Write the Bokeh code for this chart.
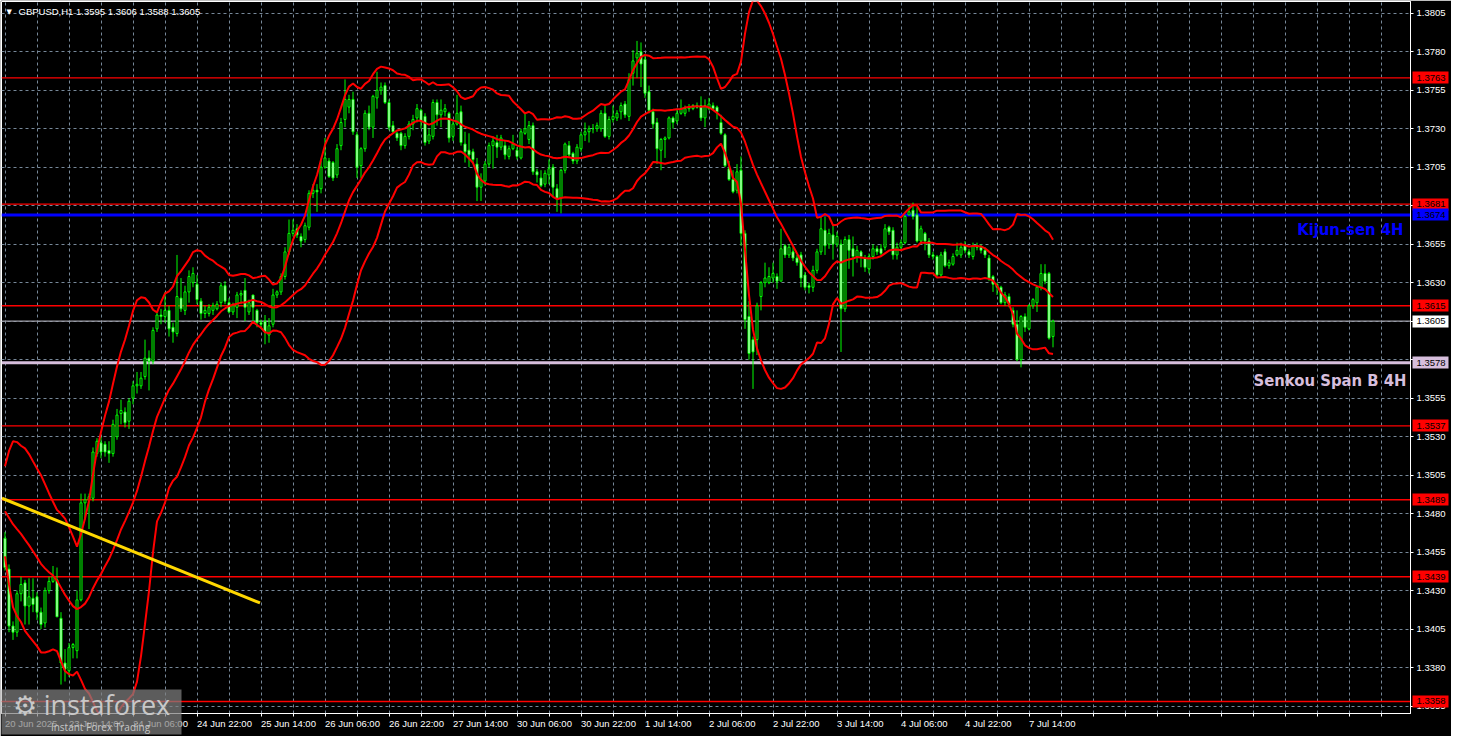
import numpy as np
from bokeh.plotting import figure
from bokeh.models import (Range1d, FixedTicker, NumeralTickFormatter, Label, Span,
                          ColumnDataSource, LinearAxis)
from bokeh.embed import file_html
from bokeh.resources import INLINE

symbol = "GBPUSD,H1"

# ---- hourly candles (bar 0 = 20 Jun 22:00, last bar = 7 Jul 20:00) ----
open_ = [
    1.3464, 1.3444, 1.3407, 1.3403, 1.3428, 1.3435, 1.3420, 1.3425, 1.3426, 1.3416,
    1.3409, 1.3430, 1.3436, 1.3437, 1.3412, 1.3383, 1.3378, 1.3393, 1.3391, 1.3424,
    1.3487, 1.3489, 1.3490, 1.3519, 1.3526, 1.3525, 1.3521, 1.3519, 1.3530, 1.3545,
    1.3546, 1.3540, 1.3555, 1.3563, 1.3563, 1.3569, 1.3581, 1.3579, 1.3600, 1.3609,
    1.3608, 1.3612, 1.3601, 1.3597, 1.3620, 1.3612, 1.3624, 1.3630, 1.3629, 1.3618,
    1.3610, 1.3610, 1.3612, 1.3613, 1.3617, 1.3628, 1.3617, 1.3611, 1.3614, 1.3622,
    1.3625, 1.3611, 1.3622, 1.3612, 1.3604, 1.3605, 1.3596, 1.3603, 1.3622, 1.3624,
    1.3634, 1.3650, 1.3662, 1.3665, 1.3660, 1.3658, 1.3666, 1.3688, 1.3690, 1.3691,
    1.3705, 1.3709, 1.3708, 1.3700, 1.3719, 1.3736, 1.3744, 1.3749, 1.3726, 1.3706,
    1.3717, 1.3740, 1.3731, 1.3750, 1.3755, 1.3758, 1.3747, 1.3732, 1.3727, 1.3727,
    1.3719, 1.3725, 1.3733, 1.3737, 1.3742, 1.3738, 1.3722, 1.3725, 1.3747, 1.3739,
    1.3741, 1.3740, 1.3725, 1.3733, 1.3741, 1.3720, 1.3716, 1.3715, 1.3707, 1.3692,
    1.3696, 1.3707, 1.3719, 1.3721, 1.3718, 1.3719, 1.3712, 1.3717, 1.3716, 1.3711,
    1.3727, 1.3723, 1.3732, 1.3702, 1.3698, 1.3694, 1.3700, 1.3705, 1.3691, 1.3685,
    1.3703, 1.3719, 1.3714, 1.3709, 1.3717, 1.3726, 1.3728, 1.3730, 1.3730, 1.3730,
    1.3740, 1.3725, 1.3736, 1.3737, 1.3741, 1.3746, 1.3738, 1.3766, 1.3776, 1.3780,
    1.3775, 1.3754, 1.3741, 1.3734, 1.3716, 1.3723, 1.3724, 1.3737, 1.3735, 1.3740,
    1.3740, 1.3743, 1.3743, 1.3745, 1.3745, 1.3737, 1.3743, 1.3745, 1.3744, 1.3734,
    1.3726, 1.3704, 1.3697, 1.3690, 1.3703, 1.3662, 1.3608, 1.3593, 1.3593, 1.3621,
    1.3630, 1.3630, 1.3633, 1.3634, 1.3631, 1.3654, 1.3648, 1.3650, 1.3646, 1.3648,
    1.3635, 1.3628, 1.3627, 1.3638, 1.3650, 1.3664, 1.3655, 1.3661, 1.3655, 1.3655,
    1.3613, 1.3658, 1.3652, 1.3647, 1.3650, 1.3646, 1.3639, 1.3647, 1.3652, 1.3652,
    1.3653, 1.3666, 1.3664, 1.3648, 1.3653, 1.3656, 1.3674, 1.3677, 1.3674, 1.3657,
    1.3662, 1.3657, 1.3648, 1.3647, 1.3635, 1.3650, 1.3641, 1.3642, 1.3648, 1.3648,
    1.3654, 1.3650, 1.3647, 1.3654, 1.3653, 1.3651, 1.3646, 1.3634, 1.3629, 1.3627,
    1.3617, 1.3621, 1.3612, 1.3603, 1.3580, 1.3608, 1.3600, 1.3615, 1.3617, 1.3627,
    1.3636, 1.3636, 1.3595]

high = [
    1.3468, 1.3447, 1.3410, 1.3430, 1.3439, 1.3437, 1.3438, 1.3438, 1.3429, 1.3419,
    1.3432, 1.3439, 1.3446, 1.3445, 1.3416, 1.3392, 1.3396, 1.3396, 1.3430, 1.3493,
    1.3493, 1.3493, 1.3523, 1.3529, 1.3530, 1.3527, 1.3527, 1.3541, 1.3548, 1.3554,
    1.3549, 1.3555, 1.3566, 1.3572, 1.3572, 1.3593, 1.3586, 1.3601, 1.3611, 1.3613,
    1.3624, 1.3615, 1.3604, 1.3648, 1.3633, 1.3628, 1.3638, 1.3640, 1.3635, 1.3620,
    1.3615, 1.3616, 1.3617, 1.3618, 1.3630, 1.3631, 1.3620, 1.3617, 1.3624, 1.3625,
    1.3633, 1.3619, 1.3622, 1.3613, 1.3606, 1.3609, 1.3607, 1.3626, 1.3625, 1.3636,
    1.3653, 1.3671, 1.3671, 1.3668, 1.3662, 1.3669, 1.3690, 1.3694, 1.3694, 1.3709,
    1.3724, 1.3711, 1.3709, 1.3720, 1.3737, 1.3762, 1.3752, 1.3754, 1.3728, 1.3718,
    1.3742, 1.3745, 1.3752, 1.3767, 1.3760, 1.3760, 1.3749, 1.3735, 1.3728, 1.3728,
    1.3727, 1.3735, 1.3739, 1.3746, 1.3743, 1.3740, 1.3730, 1.3749, 1.3749, 1.3749,
    1.3746, 1.3741, 1.3735, 1.3752, 1.3745, 1.3728, 1.3727, 1.3717, 1.3711, 1.3701,
    1.3709, 1.3721, 1.3725, 1.3726, 1.3726, 1.3722, 1.3719, 1.3726, 1.3718, 1.3730,
    1.3740, 1.3735, 1.3734, 1.3704, 1.3703, 1.3703, 1.3710, 1.3707, 1.3694, 1.3704,
    1.3721, 1.3722, 1.3715, 1.3720, 1.3728, 1.3734, 1.3732, 1.3733, 1.3734, 1.3742,
    1.3745, 1.3738, 1.3745, 1.3742, 1.3747, 1.3748, 1.3766, 1.3781, 1.3787, 1.3786,
    1.3778, 1.3758, 1.3743, 1.3737, 1.3724, 1.3725, 1.3738, 1.3738, 1.3743, 1.3749,
    1.3745, 1.3746, 1.3746, 1.3747, 1.3751, 1.3749, 1.3750, 1.3747, 1.3745, 1.3739,
    1.3727, 1.3709, 1.3703, 1.3707, 1.3712, 1.3664, 1.3618, 1.3595, 1.3617, 1.3631,
    1.3643, 1.3640, 1.3643, 1.3636, 1.3665, 1.3655, 1.3655, 1.3653, 1.3648, 1.3650,
    1.3637, 1.3630, 1.3641, 1.3652, 1.3673, 1.3673, 1.3665, 1.3668, 1.3663, 1.3658,
    1.3660, 1.3661, 1.3660, 1.3654, 1.3651, 1.3648, 1.3649, 1.3655, 1.3654, 1.3655,
    1.3668, 1.3667, 1.3666, 1.3656, 1.3658, 1.3674, 1.3680, 1.3682, 1.3679, 1.3667,
    1.3663, 1.3659, 1.3650, 1.3648, 1.3650, 1.3652, 1.3645, 1.3649, 1.3656, 1.3656,
    1.3657, 1.3652, 1.3656, 1.3656, 1.3655, 1.3653, 1.3648, 1.3635, 1.3630, 1.3628,
    1.3624, 1.3623, 1.3614, 1.3612, 1.3609, 1.3610, 1.3616, 1.3620, 1.3628, 1.3642,
    1.3642, 1.3637, 1.3606]

low = [
    1.3443, 1.3403, 1.3398, 1.3400, 1.3423, 1.3408, 1.3408, 1.3416, 1.3411, 1.3405,
    1.3406, 1.3428, 1.3435, 1.3413, 1.3369, 1.3371, 1.3374, 1.3386, 1.3386, 1.3423,
    1.3476, 1.3470, 1.3488, 1.3517, 1.3516, 1.3517, 1.3513, 1.3517, 1.3528, 1.3538,
    1.3536, 1.3535, 1.3551, 1.3558, 1.3561, 1.3567, 1.3560, 1.3577, 1.3598, 1.3603,
    1.3604, 1.3595, 1.3591, 1.3595, 1.3611, 1.3609, 1.3617, 1.3627, 1.3616, 1.3606,
    1.3607, 1.3608, 1.3609, 1.3612, 1.3614, 1.3616, 1.3610, 1.3609, 1.3607, 1.3616,
    1.3605, 1.3609, 1.3604, 1.3601, 1.3600, 1.3590, 1.3591, 1.3601, 1.3620, 1.3622,
    1.3632, 1.3648, 1.3660, 1.3659, 1.3653, 1.3656, 1.3664, 1.3685, 1.3676, 1.3688,
    1.3704, 1.3698, 1.3696, 1.3698, 1.3716, 1.3731, 1.3740, 1.3726, 1.3698, 1.3698,
    1.3715, 1.3729, 1.3724, 1.3743, 1.3752, 1.3746, 1.3729, 1.3727, 1.3722, 1.3716,
    1.3717, 1.3723, 1.3729, 1.3734, 1.3730, 1.3719, 1.3720, 1.3723, 1.3732, 1.3731,
    1.3738, 1.3721, 1.3722, 1.3732, 1.3719, 1.3708, 1.3705, 1.3707, 1.3683, 1.3683,
    1.3693, 1.3705, 1.3704, 1.3711, 1.3716, 1.3710, 1.3710, 1.3716, 1.3710, 1.3710,
    1.3726, 1.3720, 1.3700, 1.3695, 1.3692, 1.3692, 1.3694, 1.3686, 1.3676, 1.3675,
    1.3701, 1.3711, 1.3707, 1.3707, 1.3715, 1.3722, 1.3721, 1.3727, 1.3728, 1.3728,
    1.3724, 1.3723, 1.3734, 1.3735, 1.3736, 1.3737, 1.3735, 1.3758, 1.3763, 1.3757,
    1.3750, 1.3740, 1.3730, 1.3707, 1.3703, 1.3711, 1.3723, 1.3730, 1.3733, 1.3739,
    1.3738, 1.3741, 1.3742, 1.3743, 1.3735, 1.3731, 1.3742, 1.3742, 1.3736, 1.3726,
    1.3705, 1.3696, 1.3688, 1.3688, 1.3654, 1.3600, 1.3580, 1.3561, 1.3583, 1.3612,
    1.3627, 1.3629, 1.3630, 1.3626, 1.3631, 1.3646, 1.3646, 1.3644, 1.3641, 1.3627,
    1.3625, 1.3623, 1.3624, 1.3636, 1.3648, 1.3648, 1.3652, 1.3645, 1.3653, 1.3585,
    1.3611, 1.3639, 1.3634, 1.3643, 1.3640, 1.3637, 1.3636, 1.3645, 1.3648, 1.3647,
    1.3651, 1.3661, 1.3645, 1.3645, 1.3651, 1.3655, 1.3674, 1.3671, 1.3656, 1.3655,
    1.3651, 1.3646, 1.3645, 1.3634, 1.3633, 1.3640, 1.3639, 1.3641, 1.3647, 1.3646,
    1.3649, 1.3646, 1.3645, 1.3651, 1.3649, 1.3646, 1.3631, 1.3624, 1.3622, 1.3616,
    1.3615, 1.3614, 1.3601, 1.3579, 1.3575, 1.3598, 1.3599, 1.3613, 1.3611, 1.3625,
    1.3629, 1.3593, 1.3588]

close = [
    1.3445, 1.3407, 1.3403, 1.3428, 1.3434, 1.3420, 1.3426, 1.3421, 1.3416, 1.3408,
    1.3430, 1.3436, 1.3439, 1.3413, 1.3383, 1.3379, 1.3393, 1.3395, 1.3424, 1.3487,
    1.3489, 1.3491, 1.3520, 1.3527, 1.3520, 1.3520, 1.3519, 1.3538, 1.3544, 1.3547,
    1.3539, 1.3553, 1.3563, 1.3564, 1.3568, 1.3581, 1.3579, 1.3599, 1.3609, 1.3608,
    1.3612, 1.3600, 1.3598, 1.3621, 1.3613, 1.3624, 1.3634, 1.3636, 1.3619, 1.3610,
    1.3612, 1.3614, 1.3615, 1.3616, 1.3628, 1.3618, 1.3611, 1.3615, 1.3622, 1.3623,
    1.3614, 1.3617, 1.3614, 1.3604, 1.3603, 1.3598, 1.3602, 1.3622, 1.3624, 1.3634,
    1.3650, 1.3662, 1.3664, 1.3661, 1.3657, 1.3667, 1.3688, 1.3690, 1.3689, 1.3705,
    1.3711, 1.3699, 1.3698, 1.3717, 1.3734, 1.3749, 1.3749, 1.3728, 1.3705, 1.3717,
    1.3740, 1.3731, 1.3751, 1.3755, 1.3757, 1.3747, 1.3731, 1.3728, 1.3724, 1.3719,
    1.3725, 1.3733, 1.3736, 1.3743, 1.3735, 1.3721, 1.3726, 1.3747, 1.3739, 1.3742,
    1.3743, 1.3724, 1.3733, 1.3740, 1.3721, 1.3715, 1.3713, 1.3710, 1.3692, 1.3697,
    1.3707, 1.3719, 1.3722, 1.3718, 1.3724, 1.3713, 1.3717, 1.3720, 1.3712, 1.3728,
    1.3730, 1.3732, 1.3702, 1.3700, 1.3693, 1.3701, 1.3704, 1.3692, 1.3685, 1.3703,
    1.3720, 1.3713, 1.3709, 1.3718, 1.3726, 1.3728, 1.3730, 1.3730, 1.3732, 1.3740,
    1.3725, 1.3736, 1.3738, 1.3740, 1.3745, 1.3739, 1.3762, 1.3774, 1.3779, 1.3772,
    1.3753, 1.3742, 1.3733, 1.3717, 1.3723, 1.3724, 1.3737, 1.3734, 1.3740, 1.3743,
    1.3743, 1.3744, 1.3745, 1.3744, 1.3737, 1.3745, 1.3746, 1.3743, 1.3741, 1.3727,
    1.3706, 1.3697, 1.3689, 1.3702, 1.3662, 1.3606, 1.3584, 1.3585, 1.3615, 1.3630,
    1.3633, 1.3634, 1.3636, 1.3631, 1.3652, 1.3648, 1.3653, 1.3646, 1.3643, 1.3633,
    1.3627, 1.3627, 1.3638, 1.3650, 1.3665, 1.3654, 1.3662, 1.3655, 1.3660, 1.3613,
    1.3658, 1.3651, 1.3647, 1.3651, 1.3647, 1.3640, 1.3647, 1.3652, 1.3650, 1.3649,
    1.3665, 1.3663, 1.3648, 1.3653, 1.3656, 1.3673, 1.3676, 1.3673, 1.3657, 1.3665,
    1.3657, 1.3648, 1.3647, 1.3635, 1.3648, 1.3641, 1.3643, 1.3647, 1.3651, 1.3653,
    1.3651, 1.3648, 1.3654, 1.3653, 1.3651, 1.3648, 1.3633, 1.3629, 1.3627, 1.3617,
    1.3622, 1.3616, 1.3603, 1.3580, 1.3608, 1.3601, 1.3615, 1.3619, 1.3627, 1.3636,
    1.3631, 1.3594, 1.3605]

# closes of the 19 hours before the first visible bar (needed by the 20-bar bands)
pre_close = [1.3490, 1.3487, 1.3492, 1.3496, 1.3494, 1.3498, 1.3500, 1.3496, 1.3492, 1.3489,
             1.3486, 1.3482, 1.3478, 1.3475, 1.3472, 1.3469, 1.3466, 1.3463, 1.3460]

x_tick_bars = [0, 16, 32, 48, 64, 80, 96, 112, 128, 144, 160, 176, 192, 208, 224, 240, 256]
x_tick_labels = ["20 Jun 2025", "23 Jun 14:00", "24 Jun 06:00", "24 Jun 22:00", "25 Jun 14:00",
                 "26 Jun 06:00", "26 Jun 22:00", "27 Jun 14:00", "30 Jun 06:00", "30 Jun 22:00",
                 "1 Jul 14:00", "2 Jul 06:00", "2 Jul 22:00", "3 Jul 14:00", "4 Jul 06:00",
                 "4 Jul 22:00", "7 Jul 14:00"]

price_grid = [1.3355, 1.3380, 1.3405, 1.3430, 1.3455, 1.3480, 1.3505, 1.3530, 1.3555, 1.3580,
              1.3605, 1.3630, 1.3655, 1.3680, 1.3705, 1.3730, 1.3755, 1.3780, 1.3805]

red_levels = [1.3763, 1.3681, 1.3615, 1.3537, 1.3489, 1.3439, 1.3358]
kijun_4h = 1.3674
senkou_b_4h = 1.3578

trend_x = [-0.75, 63.75]
trend_y = [1.3490, 1.3422]

watermark_name = "\u2699 instaforex"
watermark_sub = "Instant Forex Trading"

# ---------------------------------------------------------------
n = min(len(open_), len(high), len(low), len(close))
o = np.array(open_[:n]); c = np.array(close[:n])
h = np.maximum(np.array(high[:n]), np.maximum(o, c))
l = np.minimum(np.array(low[:n]), np.minimum(o, c))
idx = np.arange(n)
last = close[n - 1]

full = np.array(pre_close + list(c))
win = np.array([full[i:i + 20] for i in range(n)])
bb_mid = win.mean(axis=1)
bb_sd = win.std(axis=1)
bb_up = bb_mid + 2 * bb_sd
bb_lo = bb_mid - 2 * bb_sd

FW, FH = 1409, 712
PX_PER_BAR = 4.0
X0 = -0.875
X1 = X0 + FW / PX_PER_BAR
Y0, Y1 = 1.33502, 1.38126
FONT = "Liberation Sans"
FS = "9.5px"
THISTLE = "#D6BEDC"

p = figure(frame_width=FW, frame_height=FH,
           x_range=Range1d(X0, X1), y_range=Range1d(Y0, Y1),
           output_backend="svg", toolbar_location=None,
           y_axis_location="right",
           background_fill_color="black", border_fill_color="black",
           min_border_left=1, min_border_top=1, min_border_right=41, min_border_bottom=21,
           outline_line_color="white", outline_line_width=1)

tick_bars = list(range(0, int(X1) + 1, 8))

# grid
p.xgrid.ticker = FixedTicker(ticks=tick_bars)
p.ygrid.ticker = FixedTicker(ticks=price_grid)
for g in (p.xgrid, p.ygrid):
    g.grid_line_color = "#778899"
    g.grid_line_dash = "3 3"
    g.grid_line_width = 1

# right price scale
ya = p.yaxis[0]
ya.ticker = FixedTicker(ticks=price_grid)
ya.formatter = NumeralTickFormatter(format="0.0000")
ya.major_label_text_color = "white"
ya.major_label_text_font = FONT
ya.major_label_text_font_size = FS
ya.axis_line_color = "white"
ya.major_tick_line_color = "white"
ya.major_tick_in = 0
ya.major_tick_out = 3
ya.minor_tick_line_color = None
ya.major_label_standoff = 3


# coloured tag boxes: zero-width scales placed just outside the price scale whose thick
# ticks point back inwards over it
def tag_box_axis(levels, bg):
    p.add_layout(LinearAxis(ticker=FixedTicker(ticks=levels),
                            axis_line_color=None, minor_tick_line_color=None,
                            major_tick_in=36, major_tick_out=0, major_tick_line_width=12,
                            major_tick_line_color=bg, major_label_text_color=None), "right")


tag_box_axis(red_levels, "#FF0000")
tag_box_axis([kijun_4h], "#0000FF")
tag_box_axis([last], "#FFFFFF")
tag_box_axis([senkou_b_4h], THISTLE)

# tag texts
tag_levels = red_levels + [kijun_4h, last, senkou_b_4h]
p.add_layout(LinearAxis(ticker=FixedTicker(ticks=tag_levels),
                        formatter=NumeralTickFormatter(format="0.0000"),
                        axis_line_color=None, minor_tick_line_color=None,
                        major_tick_line_color=None, major_tick_in=0, major_tick_out=0,
                        major_label_standoff=-32, major_label_text_color="black",
                        major_label_text_font=FONT, major_label_text_font_size=FS), "right")

# bottom: tick marks every 8 bars (closest to the frame)
xa = p.xaxis[0]
xa.ticker = FixedTicker(ticks=tick_bars)
xa.major_label_text_color = None
xa.major_label_standoff = 0
xa.axis_line_color = "white"
xa.major_tick_line_color = "white"
xa.major_tick_in = 0
xa.major_tick_out = 3
xa.minor_tick_line_color = None


def text_px(s, size):
    w = {" ": 0.278, ":": 0.278, "J": 0.5, "u": 0.556, "n": 0.556, "l": 0.222}
    return sum(w.get(ch, 0.556) for ch in s) * size


# time labels starting at their tick (MT4 style)
label_pos = [round(b + text_px(t, 9.5) / 2 / PX_PER_BAR, 3) for b, t in zip(x_tick_bars, x_tick_labels)]
p.add_layout(LinearAxis(ticker=FixedTicker(ticks=label_pos),
                        major_label_overrides={pos: t for pos, t in zip(label_pos, x_tick_labels)},
                        major_label_text_color="white", major_label_text_font=FONT,
                        major_label_text_font_size=FS, major_label_standoff=1,
                        axis_line_color=None, major_tick_line_color=None,
                        major_tick_in=0, major_tick_out=0, minor_tick_line_color=None), "below")


def sx_to_bar(px):
    return round(X0 + px / PX_PER_BAR, 3)


# watermark in the bottom-left corner (overlaps chart and time scale)
wm_box = sx_to_bar(90)
p.add_layout(LinearAxis(ticker=FixedTicker(ticks=[wm_box]),
                        axis_line_color=None, minor_tick_line_color=None,
                        major_tick_in=42, major_tick_out=3,
                        major_tick_line_width=180, major_tick_line_color="#808080",
                        major_tick_line_alpha=0.72, major_label_text_color=None), "below")
wm_sub = sx_to_bar(99)
p.add_layout(LinearAxis(ticker=FixedTicker(ticks=[wm_sub]),
                        major_label_overrides={wm_sub: watermark_sub},
                        axis_line_color=None, minor_tick_line_color=None,
                        major_tick_line_color=None, major_tick_in=0, major_tick_out=0,
                        major_label_standoff=-15, major_label_text_color="#C8C8C8",
                        major_label_text_font="Open Sans", major_label_text_font_size="10px"), "below")
p.add_layout(LinearAxis(ticker=FixedTicker(ticks=[wm_box]),
                        major_label_overrides={wm_box: watermark_name},
                        axis_line_color=None, minor_tick_line_color=None,
                        major_tick_line_color=None, major_tick_in=0, major_tick_out=0,
                        major_label_standoff=-51, major_label_text_color="#C8C8C8",
                        major_label_text_font="Open Sans", major_label_text_font_size="27px"), "below")

# horizontal levels
for lv in red_levels:
    p.add_layout(Span(location=lv, dimension="width", line_color="#FF0000", line_width=1.4, level="underlay"))
p.add_layout(Span(location=last, dimension="width", line_color="#A0A0AA", line_width=1.2, level="underlay"))
p.add_layout(Span(location=kijun_4h, dimension="width", line_color="#0000FF", line_width=3, level="underlay"))
p.add_layout(Span(location=senkou_b_4h, dimension="width", line_color=THISTLE, line_width=3, level="underlay"))

# candles
src = ColumnDataSource(dict(x=idx, h=h, l=l, top=np.maximum(o, c), bottom=np.minimum(o, c),
                            fill=np.where(c >= o, "black", "white")))
p.segment("x", "h", "x", "l", source=src, line_color="#00FF00", line_width=1)
p.vbar(x="x", width=0.5, top="top", bottom="bottom", fill_color="fill",
       line_color="#00FF00", line_width=1, source=src)

# Bollinger bands (20, 2)
for band in (bb_up, bb_mid, bb_lo):
    p.line(idx, band, line_color="#FF0000", line_width=2)

# trend line
p.line(trend_x, trend_y, line_color="#FFD700", line_width=3)

# indicator captions
CAP_FONT = "DejaVu Sans Condensed"
p.add_layout(Label(x=FW - 7, y=kijun_4h - 0.00092, x_units="screen", y_units="data",
                   text="Kijun-sen 4H", text_align="right", text_baseline="middle",
                   text_color="#0000FF", text_font=CAP_FONT,
                   text_font_style="bold", text_font_size="16.5px"))
p.add_layout(Label(x=FW - 4, y=senkou_b_4h - 0.00115, x_units="screen", y_units="data",
                   text="Senkou Span B 4H", text_align="right", text_baseline="middle",
                   text_color=THISTLE, text_font=CAP_FONT,
                   text_font_style="bold", text_font_size="16.5px"))

# header
p.add_layout(Label(x=5, y=FH - 10, x_units="screen", y_units="screen", text="\u25BC",
                   text_align="left", text_baseline="middle", text_color="white",
                   text_font="DejaVu Sans", text_font_size="7px"))
p.add_layout(Label(x=17, y=FH - 10, x_units="screen", y_units="screen",
                   text=f"{symbol}  {open_[n-1]:.4f} {high[n-1]:.4f} {low[n-1]:.4f} {close[n-1]:.4f}",
                   text_align="left", text_baseline="middle", text_color="white",
                   text_font=FONT, text_font_size=FS))

open("out.html", "w").write(file_html(p, INLINE))
